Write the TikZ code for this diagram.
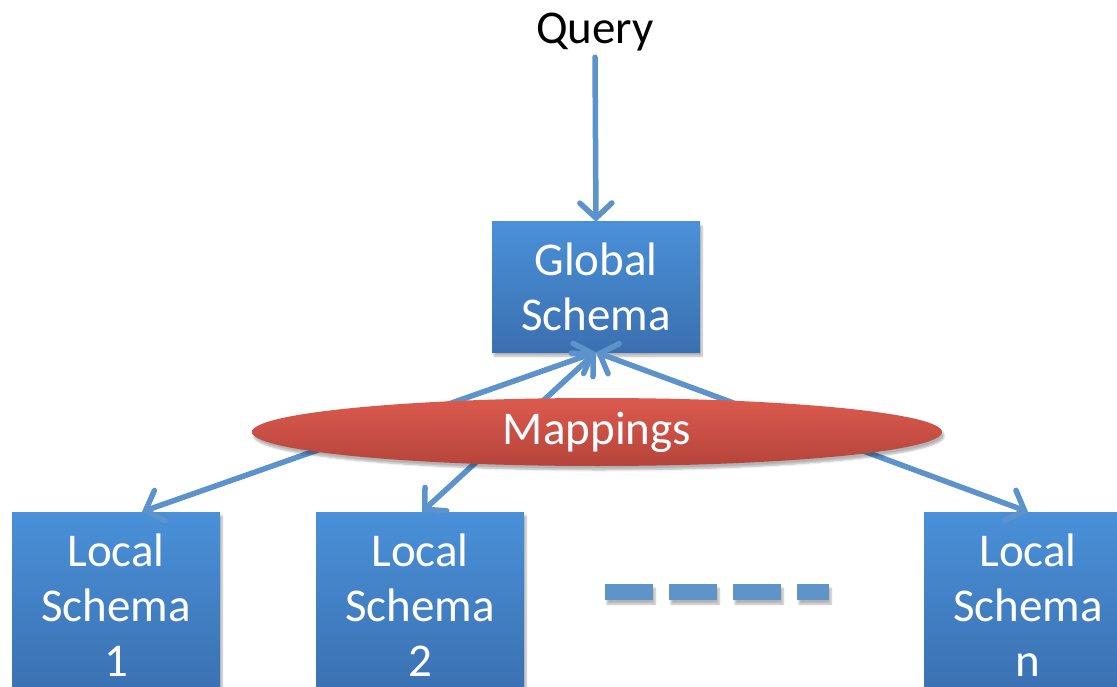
\documentclass[tikz,border=0pt]{standalone}
\usepackage{fontspec}
\setmainfont{Carlito}
\usetikzlibrary{arrows.meta,shapes.geometric,shadows.blur}
\definecolor{boxtop}{HTML}{4A90D8}
\definecolor{boxbot}{HTML}{3A70B0}
\definecolor{maptop}{HTML}{DC5A4E}
\definecolor{mapbot}{HTML}{B6443B}
\definecolor{linkblue}{HTML}{5B93CA}
\definecolor{dashblue}{HTML}{5E94C8}
\begin{document}
\begin{tikzpicture}[x=1pt,y=-1pt,
    >={Straight Barb[length=15pt,width=32pt,line cap=round]},
    bigtext/.style={font=\fontsize{47}{55}\selectfont},
    soft/.style={blur shadow={shadow xshift=2pt,shadow yshift=-4pt,shadow opacity=30,shadow blur steps=6}},
    schemabox/.style={bigtext,soft,top color=boxtop,bottom color=boxbot,text=white,
        minimum width=208pt,inner sep=0pt,align=center},
    link/.style={draw=linkblue,line width=5.5pt,line cap=round}]
    \useasboundingbox (0,0) rectangle (1117,687);
    \clip (0,0) rectangle (1117,687);
    \node[bigtext,inner sep=0pt] (query) at (595,32) {Query};
    \node[schemabox,minimum height=130pt] (global) at (596,287) {Global\\Schema};
    \node[schemabox,minimum height=186pt] (local1) at (116,605) {Local\\Schema\\1};
    \node[schemabox,minimum height=186pt] (local2) at (420,605) {Local\\Schema\\2};
    \node[schemabox,minimum height=186pt] (localn) at (1028,605) {Local\\Schema\\n};
    \draw[link,->] ([yshift=-6pt]query.south) -- (global.north);
    \draw[link,<->] (global.south) -- ([xshift=26pt]local1.north);
    \draw[link,<->] (global.south) -- ([xshift=2pt]local2.north);
    \draw[link,<->] (global.south) -- (localn.north);
    \node[ellipse,bigtext,soft,top color=maptop,bottom color=mapbot,text=white,
        minimum width=690pt,minimum height=68pt,inner sep=0pt] (mappings) at (597,432) {Mappings};
    \foreach \x/\w in {605/48,669/48,733/48,797/32}
        \fill[dashblue,soft] (\x,584) rectangle ++(\w,16);
\end{tikzpicture}
\end{document}
